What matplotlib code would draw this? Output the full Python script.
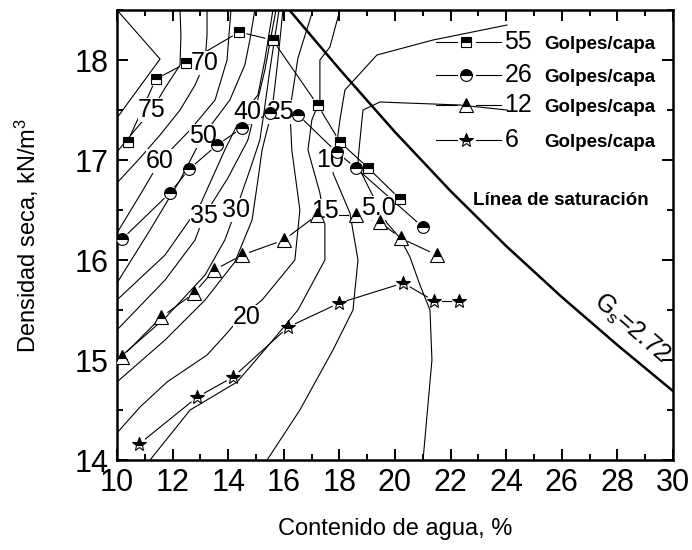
import matplotlib.pyplot as plt
from matplotlib.ticker import MultipleLocator
import numpy as np

# compaction curves: water content (%) and dry unit weight (kN/m3)
w55 = [10.38, 11.40, 12.50, 14.40, 15.60, 17.22, 18.02, 19.04, 20.18]
g55 = [17.18, 17.81, 17.97, 18.28, 18.20, 17.55, 17.18, 16.92, 16.61]
w26 = [10.19, 11.90, 12.60, 13.60, 14.50, 15.50, 16.52, 17.90, 18.60, 21.00]
g26 = [16.21, 16.67, 16.91, 17.15, 17.32, 17.47, 17.45, 17.08, 16.92, 16.33]
w12 = [10.17, 11.60, 12.78, 13.50, 14.50, 16.00, 17.20, 18.60, 19.46, 20.20, 21.50]
g12 = [15.03, 15.43, 15.67, 15.90, 16.05, 16.20, 16.45, 16.45, 16.38, 16.22, 16.05]
w6 = [10.80, 12.89, 14.18, 16.16, 18.00, 20.30, 21.41, 22.30]
g6 = [14.16, 14.63, 14.83, 15.33, 15.57, 15.77, 15.59, 15.59]

# saturation line (Gs = 2.72)
w_sat = [16.2, 18, 20, 22, 24, 26, 28, 30]
g_sat = [18.50, 17.91, 17.28, 16.69, 16.14, 15.63, 15.15, 14.69]

# contour lines
c80_w = [10.00, 11.55, 10.00]
c80_g = [18.50, 18.01, 17.42]
c75_w = [10.00, 10.65, 11.26, 11.73, 12.27, 12.30, 12.27]
c75_g = [17.08, 17.30, 17.50, 17.72, 17.95, 18.25, 18.50]
c70_w = [10.00, 10.83, 11.55, 12.27, 12.81, 13.17, 13.24, 13.24]
c70_g = [16.77, 17.02, 17.25, 17.50, 17.75, 17.98, 18.25, 18.50]
c60_w = [10.00, 10.83, 11.55, 12.63, 13.53, 13.96, 14.10]
c60_g = [16.27, 16.65, 16.99, 17.30, 17.60, 18.00, 18.50]
c50_w = [10.00, 11.19, 12.27, 13.09, 14.06, 14.60, 14.78, 14.96]
c50_g = [15.77, 16.30, 16.80, 17.24, 17.60, 17.95, 18.20, 18.50]
c40_w = [10.00, 11.73, 12.99, 13.88, 14.50, 15.07, 15.32, 15.61]
c40_g = [15.60, 16.05, 16.55, 17.10, 17.45, 17.65, 18.00, 18.50]
c35_w = [10.00, 11.73, 12.81, 13.13, 13.99, 14.71, 14.96, 15.32, 15.72]
c35_g = [15.30, 15.80, 16.20, 16.44, 16.82, 17.20, 17.48, 17.90, 18.50]
c30_w = [10.00, 11.73, 13.17, 13.88, 14.28, 14.78, 15.14, 15.29, 15.50, 15.83]
c30_g = [15.00, 15.42, 15.85, 16.20, 16.50, 16.90, 17.20, 17.48, 17.90, 18.50]
c25_w = [10.00, 11.73, 13.17, 14.24, 14.86, 15.07, 15.22, 15.58, 15.79, 15.97]
c25_g = [14.78, 15.20, 15.60, 15.98, 16.40, 16.80, 17.10, 17.50, 18.00, 18.50]
c20_w = [10.00, 10.83, 11.80, 13.24, 13.96, 14.42, 15.22, 16.40, 16.58, 16.29, 16.22, 16.51, 17.05]
c20_g = [14.27, 14.53, 14.78, 15.05, 15.27, 15.42, 15.60, 16.00, 16.50, 17.10, 17.50, 18.02, 18.50]
c15_w = [11.19, 12.63, 14.32, 15.40, 16.51, 17.48, 17.48, 17.30, 16.87, 17.01, 17.30, 17.30, 17.66, 18.02]
c15_g = [14.00, 14.50, 14.78, 15.13, 15.50, 16.00, 16.37, 16.67, 17.10, 17.40, 17.60, 18.00, 18.13, 18.50]
c10_w = [15.40, 16.58, 17.77, 18.49, 18.67, 18.38, 17.77, 18.02, 18.20, 19.35, 21.37, 24.03]
c10_g = [14.00, 14.50, 15.10, 15.50, 16.00, 16.47, 16.87, 17.40, 17.70, 18.05, 18.20, 18.35]
c5_w = [21.01, 21.33, 21.26, 20.90, 20.54, 20.18, 19.71, 19.10, 18.74, 18.67, 18.85, 19.46, 22.33, 24.03]
c5_g = [14.00, 15.00, 15.50, 15.75, 16.03, 16.22, 16.37, 16.70, 16.90, 17.00, 17.50, 17.58, 17.55, 17.50]

# contour label text and where it sits
clabels = ["75", "70", "60", "50", "40", "25", "35", "30", "20", "15", "10", "5.0"]
clabel_w = [11.26, 13.17, 11.55, 13.09, 14.68, 15.90, 13.13, 14.28, 14.68, 17.48, 17.66, 19.39]
clabel_g = [17.50, 17.97, 16.99, 17.24, 17.48, 17.48, 16.44, 16.50, 15.43, 16.49, 17.00, 16.52]

legend_n = ["55", "26", "12", "6"]

FONT = "Liberation Sans"


def gapped(ax, xs, ys, gap=7, **kw):
    """Draw a polyline with each segment shortened at both ends (Origin style)."""
    pts = ax.transData.transform(np.column_stack([xs, ys]))
    inv = ax.transData.inverted()
    for p, q in zip(pts[:-1], pts[1:]):
        d = q - p
        L = np.hypot(*d)
        if L <= 2 * gap + 2:
            continue
        u = d / L
        seg = inv.transform([p + u * gap, q - u * gap])
        ax.plot(seg[:, 0], seg[:, 1], **kw)


def main():
    plt.rcParams['font.family'] = [FONT, 'DejaVu Sans']
    plt.rcParams['mathtext.fontset'] = 'custom'
    plt.rcParams['mathtext.rm'] = FONT
    plt.rcParams['mathtext.it'] = FONT

    fig = plt.figure(figsize=(6.92, 5.5), dpi=100)
    ax = fig.add_axes([0.169, 0.1636, 0.8035, 0.8182])
    ax.set_xlim(10, 30)
    ax.set_ylim(14, 18.5)

    # contour lines
    contours = [(c80_w, c80_g), (c75_w, c75_g), (c70_w, c70_g), (c60_w, c60_g),
                (c50_w, c50_g), (c40_w, c40_g), (c35_w, c35_g), (c30_w, c30_g),
                (c25_w, c25_g), (c20_w, c20_g), (c15_w, c15_g), (c10_w, c10_g),
                (c5_w, c5_g)]
    for cw, cg in contours:
        ax.plot(cw, cg, color='black', lw=0.8, zorder=2)
    for t, x, y in zip(clabels, clabel_w, clabel_g):
        ax.text(x, y, t, fontsize=18, ha='center', va='center', zorder=3,
                bbox=dict(facecolor='white', edgecolor='none', pad=0))

    # saturation line
    ax.plot(w_sat, g_sat, color='black', lw=1.8, zorder=4)
    ax.text(28.5, 15.32, r'G$_{\rm s}$=2.72', fontsize=18, rotation=-41,
            ha='center', va='center', zorder=4)
    ax.text(22.8, 16.60, 'Línea de saturación', fontsize=13.5,
            fontweight='bold', ha='left', va='center')

    # compaction curves
    styles = [(w55, g55, 's', 7), (w26, g26, 'o', 8.5),
              (w12, g12, '^', 10), (w6, g6, '*', 10)]
    for w, g, m, ms in styles:
        gapped(ax, w, g, gap=8, color='black', lw=0.8, zorder=2)
        ax.plot(w, g, ls='none', marker=m, ms=ms, mfc='black', mfcalt='white',
                fillstyle='top', mec='black', mew=0.8, zorder=5)

    # legend drawn by hand
    leg_y = [0.929, 0.856, 0.789, 0.711]
    for (w, g, m, ms), n, y in zip(styles, legend_n, leg_y):
        ax.plot([0.574, 0.612], [y, y], transform=ax.transAxes, color='black', lw=0.8)
        ax.plot([0.645, 0.690], [y, y], transform=ax.transAxes, color='black', lw=0.8)
        ax.plot([0.628], [y], transform=ax.transAxes, ls='none', marker=m, ms=ms,
                mfc='black', mfcalt='white', fillstyle='top', mec='black', mew=0.8)
        ax.text(0.697, y, n, transform=ax.transAxes, fontsize=18, va='center')
        ax.text(0.768, y - 0.005, 'Golpes/capa', transform=ax.transAxes,
                fontsize=13.5, fontweight='bold', va='center')

    # axes
    ax.xaxis.set_major_locator(MultipleLocator(2))
    ax.xaxis.set_minor_locator(MultipleLocator(1))
    ax.yaxis.set_major_locator(MultipleLocator(1))
    ax.yaxis.set_minor_locator(MultipleLocator(0.5))
    ax.tick_params(which='both', direction='in', top=True, right=True, width=1.4)
    ax.tick_params(which='major', length=8, labelsize=22, pad=6)
    ax.tick_params(which='minor', length=4)
    for s in ax.spines.values():
        s.set_linewidth(1.8)

    ax.set_xlabel('Contenido de agua, %', fontsize=17, labelpad=14)
    ax.set_ylabel('Densidad seca, kN/m$^3$', fontsize=17, labelpad=24)

    fig.savefig('out.png', dpi=100)


if __name__ == "__main__":
    main()
